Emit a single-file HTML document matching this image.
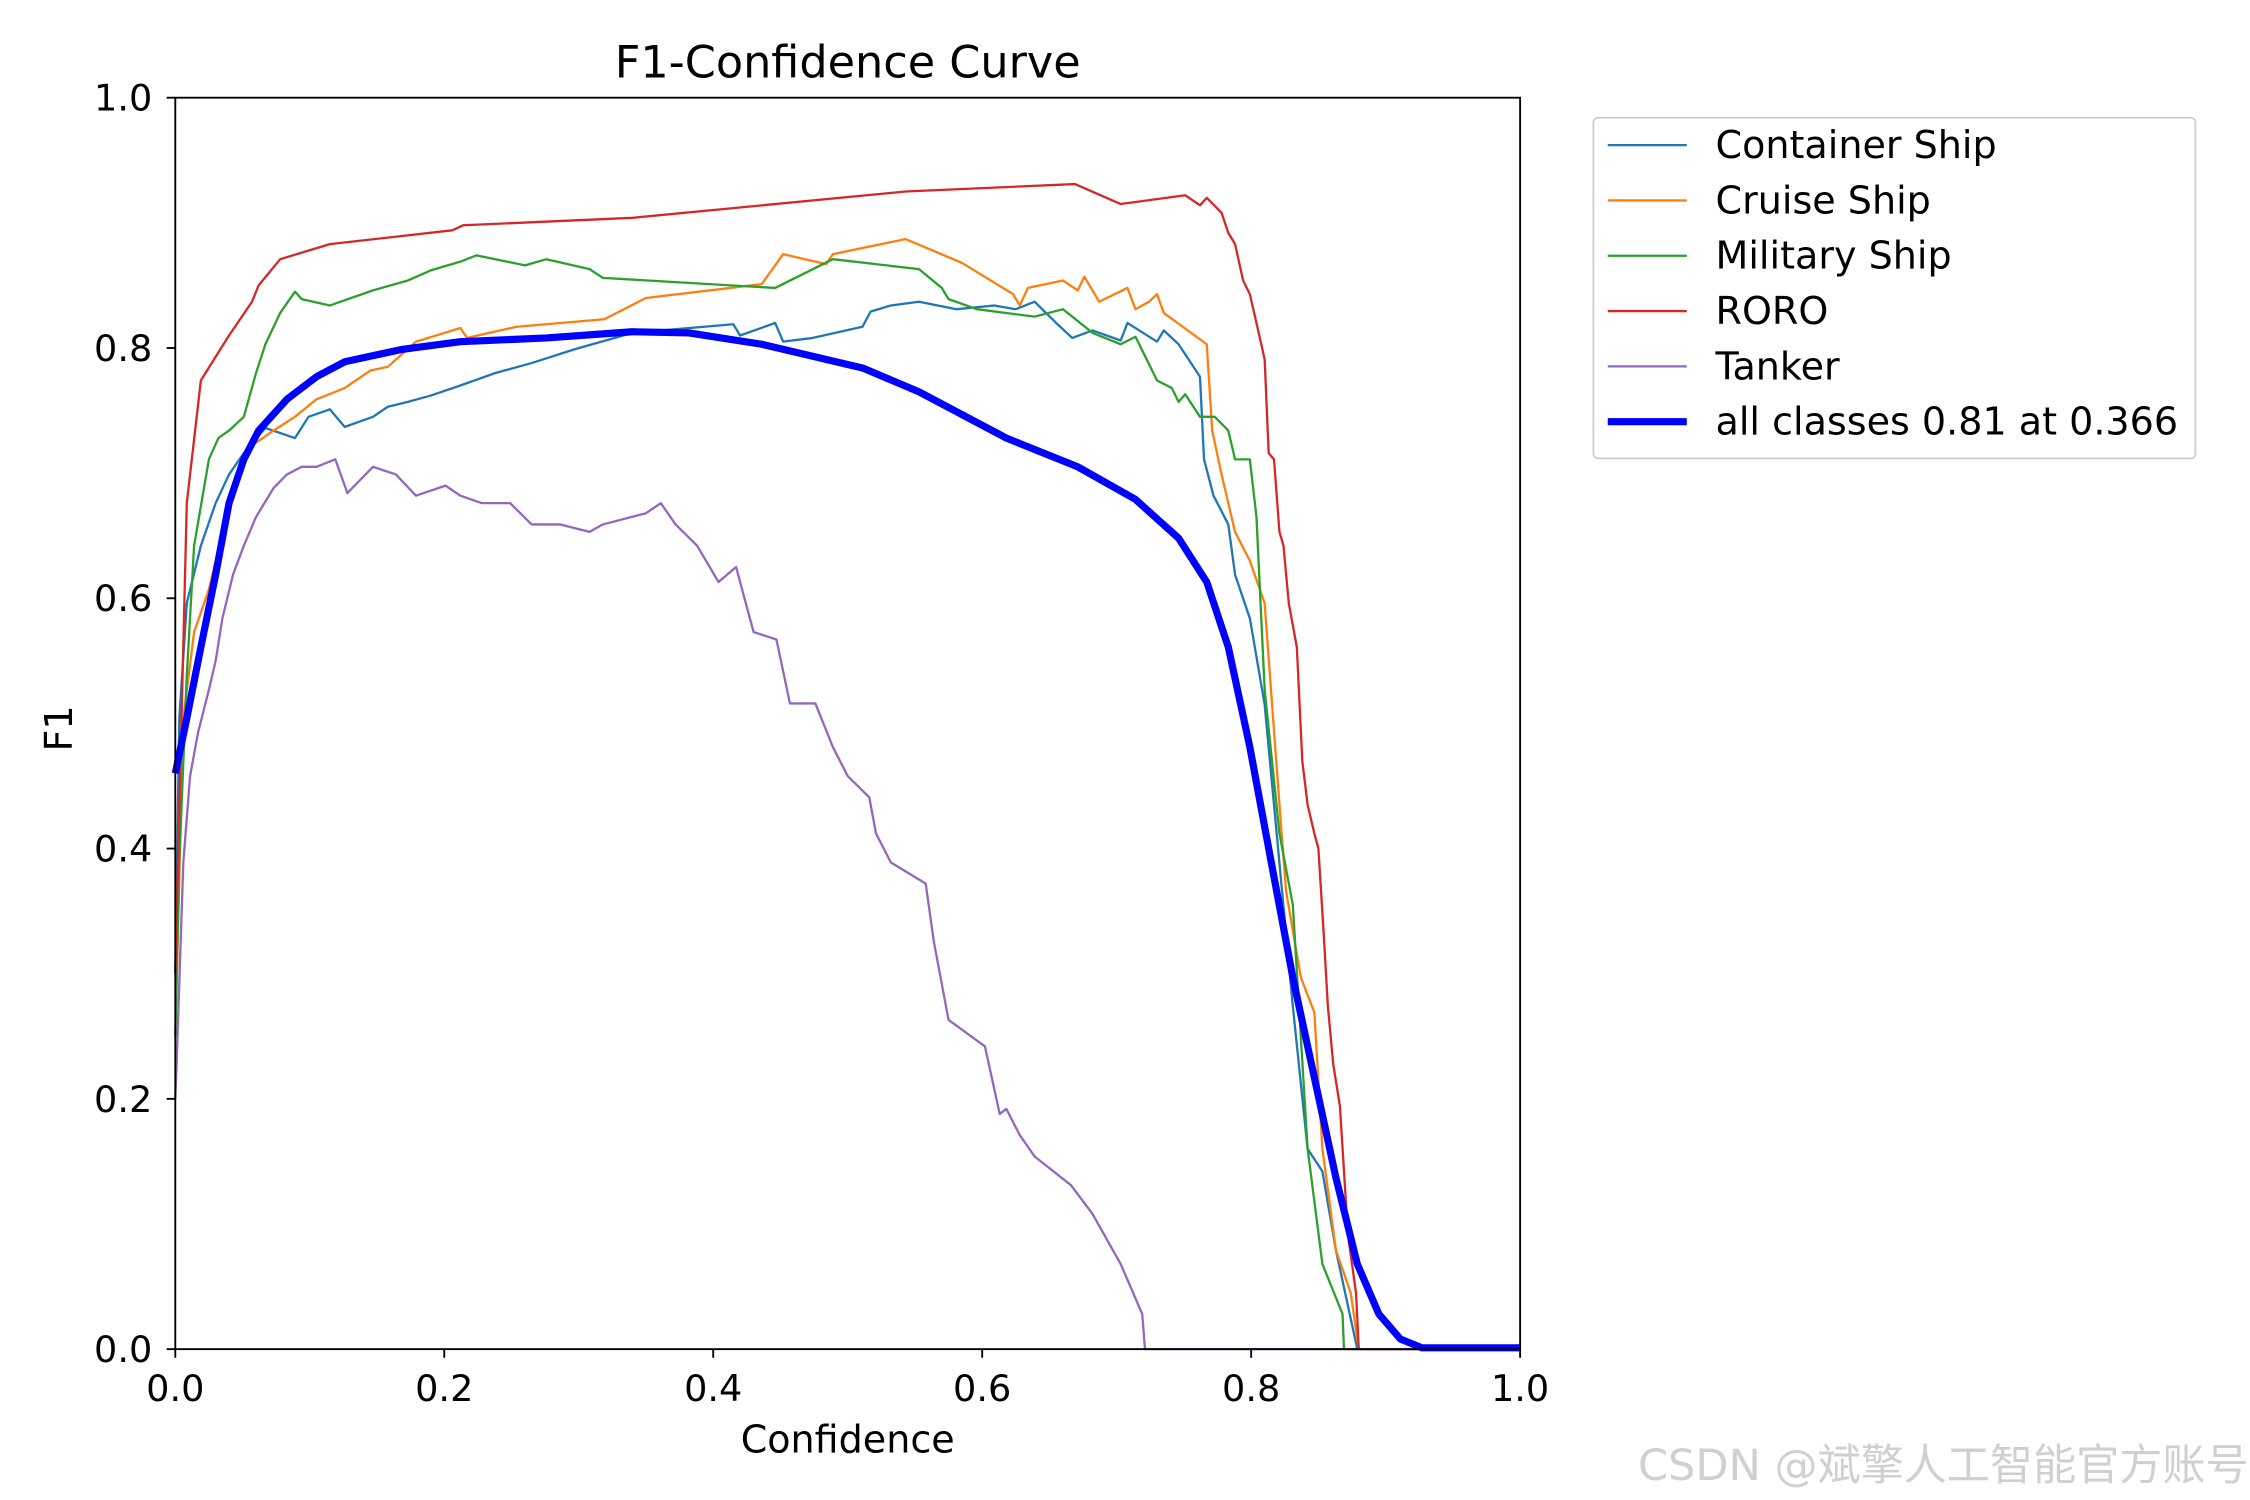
<!DOCTYPE html>
<html><head><meta charset="utf-8"><style>html,body{margin:0;padding:0;background:#fff}svg{display:block}</style></head>
<body>
<svg id="chart" width="2250" height="1500" viewBox="0 0 1566 1044" preserveAspectRatio="none" xmlns="http://www.w3.org/2000/svg" font-family="'DejaVu Sans','Liberation Sans',sans-serif">
<rect width="1566" height="1044" fill="#fff"/>
<text x="590" y="54" font-size="31" text-anchor="middle">F1-Confidence Curve</text>
<g id="plot"></g>
<rect x="122" y="68" width="936" height="871" fill="none" stroke="#000" stroke-width="1.3"/>
<g id="axes"></g>
<text x="590" y="1011" font-size="26.5" text-anchor="middle">Confidence</text>
<text transform="translate(50,507) rotate(-90)" font-size="26.5" text-anchor="middle">F1</text>
<g id="legend">
<rect x="1109" y="82" width="419" height="237" rx="3" fill="#fff" stroke="#ccc" stroke-width="1.2"/>
</g>
<text x="1565" y="1030" font-size="30" fill="#d0d0d0" text-anchor="end" font-family="'DejaVu Sans','Noto Sans CJK SC',sans-serif">CSDN @斌擎人工智能官方账号</text>
</svg>
<script>
const xTicks=[0,0.2,0.4,0.6,0.8,1.0];
const yTicks=[0,0.2,0.4,0.6,0.8,1.0];
const tickLabels=["0.0","0.2","0.4","0.6","0.8","1.0"];
const seriesNames=["Container Ship","Cruise Ship","Military Ship","RORO","Tanker","all classes 0.81 at 0.366"];
const seriesColors=["#1f77b4","#ff7f0e","#2ca02c","#d62728","#9467bd","#0000ff"];
const containerX=[0,0.003,0.0085,0.019,0.03,0.04,0.051,0.067,0.089,0.099,0.115,0.126,0.147,0.158,0.173,0.19,0.212,0.238,0.265,0.297,0.34,0.415,0.42,0.446,0.452,0.474,0.511,0.517,0.532,0.553,0.581,0.609,0.625,0.639,0.655,0.667,0.682,0.703,0.708,0.73,0.735,0.746,0.762,0.765,0.772,0.783,0.788,0.799,0.81,0.818,0.831,0.842,0.853,0.863,0.879,1.0];
const containerY=[0.3,0.504,0.596,0.642,0.676,0.699,0.716,0.736,0.728,0.745,0.751,0.737,0.745,0.753,0.757,0.762,0.77,0.78,0.788,0.799,0.812,0.819,0.81,0.82,0.805,0.808,0.817,0.829,0.834,0.837,0.831,0.834,0.831,0.837,0.82,0.808,0.814,0.806,0.82,0.805,0.814,0.803,0.777,0.711,0.682,0.659,0.619,0.584,0.515,0.424,0.274,0.16,0.142,0.079,0,0];
const cruiseX=[0,0.006,0.014,0.025,0.035,0.046,0.057,0.073,0.089,0.105,0.126,0.145,0.158,0.179,0.212,0.217,0.254,0.319,0.35,0.436,0.452,0.484,0.489,0.543,0.585,0.623,0.628,0.634,0.66,0.671,0.676,0.687,0.708,0.714,0.724,0.73,0.735,0.767,0.771,0.778,0.783,0.788,0.799,0.81,0.821,0.826,0.837,0.847,0.853,0.863,0.874,0.88,1.0];
const cruiseY=[0.25,0.504,0.573,0.607,0.653,0.699,0.722,0.734,0.745,0.759,0.768,0.782,0.785,0.805,0.816,0.808,0.817,0.823,0.84,0.851,0.875,0.867,0.875,0.887,0.868,0.843,0.834,0.848,0.854,0.846,0.857,0.837,0.848,0.831,0.837,0.843,0.828,0.803,0.734,0.699,0.676,0.653,0.63,0.596,0.435,0.366,0.297,0.269,0.16,0.079,0.045,0,0];
const militaryX=[0,0.003,0.0085,0.014,0.025,0.032,0.04,0.051,0.06,0.067,0.078,0.089,0.094,0.115,0.147,0.173,0.19,0.212,0.224,0.26,0.276,0.308,0.318,0.446,0.489,0.553,0.57,0.575,0.596,0.639,0.66,0.682,0.703,0.714,0.73,0.741,0.746,0.751,0.762,0.773,0.783,0.788,0.799,0.804,0.81,0.821,0.831,0.842,0.853,0.868,0.869,1.0];
const militaryY=[0.25,0.389,0.538,0.642,0.711,0.728,0.734,0.745,0.78,0.803,0.828,0.845,0.839,0.834,0.846,0.854,0.862,0.869,0.874,0.866,0.871,0.863,0.856,0.848,0.871,0.863,0.848,0.839,0.831,0.825,0.831,0.812,0.803,0.809,0.774,0.768,0.757,0.763,0.745,0.745,0.734,0.711,0.711,0.665,0.527,0.412,0.355,0.16,0.068,0.028,0,0];
const roroX=[0,0.0085,0.019,0.03,0.04,0.057,0.062,0.078,0.115,0.206,0.214,0.34,0.543,0.669,0.703,0.751,0.762,0.767,0.778,0.783,0.788,0.794,0.799,0.804,0.81,0.813,0.817,0.821,0.824,0.828,0.834,0.838,0.842,0.847,0.85,0.854,0.857,0.861,0.866,0.872,0.878,0.88,1.0];
const roroY=[0.3,0.676,0.774,0.793,0.81,0.837,0.85,0.871,0.883,0.894,0.898,0.904,0.925,0.931,0.915,0.922,0.914,0.92,0.908,0.892,0.883,0.854,0.843,0.82,0.791,0.716,0.711,0.653,0.642,0.596,0.561,0.47,0.435,0.412,0.4,0.332,0.274,0.228,0.194,0.091,0.045,0,0];
const tankerX=[0,0.001,0.006,0.011,0.017,0.025,0.03,0.035,0.043,0.051,0.06,0.073,0.083,0.094,0.105,0.119,0.128,0.147,0.164,0.179,0.201,0.212,0.228,0.249,0.265,0.286,0.308,0.318,0.35,0.361,0.372,0.388,0.404,0.417,0.43,0.447,0.457,0.476,0.489,0.5,0.516,0.521,0.532,0.558,0.564,0.575,0.602,0.613,0.618,0.628,0.639,0.666,0.682,0.703,0.719,0.721,1.0];
const tankerY=[0.2,0.228,0.389,0.458,0.493,0.527,0.55,0.584,0.619,0.642,0.665,0.688,0.699,0.705,0.705,0.711,0.684,0.705,0.699,0.682,0.69,0.682,0.676,0.676,0.659,0.659,0.653,0.659,0.668,0.676,0.659,0.642,0.613,0.625,0.573,0.567,0.516,0.516,0.481,0.458,0.441,0.412,0.389,0.372,0.326,0.263,0.242,0.188,0.192,0.171,0.154,0.131,0.108,0.068,0.028,0,0];
const allX=[0,0.0085,0.019,0.03,0.04,0.051,0.062,0.083,0.105,0.126,0.169,0.212,0.276,0.34,0.382,0.436,0.511,0.553,0.618,0.671,0.714,0.746,0.767,0.783,0.799,0.815,0.831,0.847,0.863,0.879,0.895,0.911,0.927,1.0];
const allY=[0.46,0.504,0.561,0.619,0.676,0.711,0.734,0.759,0.777,0.789,0.799,0.805,0.808,0.813,0.812,0.803,0.784,0.765,0.728,0.705,0.679,0.648,0.613,0.561,0.481,0.389,0.297,0.217,0.137,0.068,0.028,0.008,0.001,0.001];

const X0=122,X1=1058,Y0=939,Y1=68;
function xs(v){return X0+v*(X1-X0);}
function ys(v){return Y0-v*(Y0-Y1);}
const NS="http://www.w3.org/2000/svg";
const plot=document.getElementById('plot');
const series=[[containerX,containerY],[cruiseX,cruiseY],[militaryX,militaryY],[roroX,roroY],[tankerX,tankerY],[allX,allY]];
const slugs=["container-ship-line","cruise-ship-line","military-ship-line","roro-line","tanker-line","all-classes-line"];
series.forEach((s,i)=>{
  const p=document.createElementNS(NS,'polyline');
  p.setAttribute('points',s[0].map((x,j)=>xs(x).toFixed(1)+','+ys(s[1][j]).toFixed(1)).join(' '));
  p.setAttribute('fill','none');
  p.setAttribute('stroke',seriesColors[i]);
  p.setAttribute('stroke-width',i===5?5:1.6);
  p.setAttribute('stroke-linejoin','round');
  
  
  plot.appendChild(p);
});
const axes=document.getElementById('axes');
xTicks.forEach((t,i)=>{
  const l=document.createElementNS(NS,'line');
  l.setAttribute('x1',xs(t));l.setAttribute('x2',xs(t));l.setAttribute('y1',Y0);l.setAttribute('y2',Y0+6);
  l.setAttribute('stroke','#000');l.setAttribute('stroke-width','1.3');
  
  
  axes.appendChild(l);
  const tx=document.createElementNS(NS,'text');
  tx.setAttribute('x',xs(t));tx.setAttribute('y',Y0+36);tx.setAttribute('font-size','25.5');tx.setAttribute('text-anchor','middle');
  tx.textContent=tickLabels[i];
  
  
  axes.appendChild(tx);
});
yTicks.forEach((t,i)=>{
  const l=document.createElementNS(NS,'line');
  l.setAttribute('x1',X0-6);l.setAttribute('x2',X0);l.setAttribute('y1',ys(t));l.setAttribute('y2',ys(t));
  l.setAttribute('stroke','#000');l.setAttribute('stroke-width','1.3');
  
  
  axes.appendChild(l);
  const tx=document.createElementNS(NS,'text');
  tx.setAttribute('x',X0-16);tx.setAttribute('y',ys(t)+9);tx.setAttribute('font-size','25.5');tx.setAttribute('text-anchor','end');
  tx.textContent=tickLabels[i];
  
  
  axes.appendChild(tx);
});
const legend=document.getElementById('legend');
seriesNames.forEach((n,i)=>{
  const y=101+i*38.5;
  const l=document.createElementNS(NS,'line');
  l.setAttribute('x1',1119);l.setAttribute('x2',1174);l.setAttribute('y1',y);l.setAttribute('y2',y);
  l.setAttribute('stroke',seriesColors[i]);l.setAttribute('stroke-width',i===5?5:1.6);
  
  
  legend.appendChild(l);
  const tx=document.createElementNS(NS,'text');
  tx.setAttribute('x',1194);tx.setAttribute('y',y+9);tx.setAttribute('font-size','26.5');
  tx.textContent=n;
  
  
  legend.appendChild(tx);
});
</script>
</body></html>
